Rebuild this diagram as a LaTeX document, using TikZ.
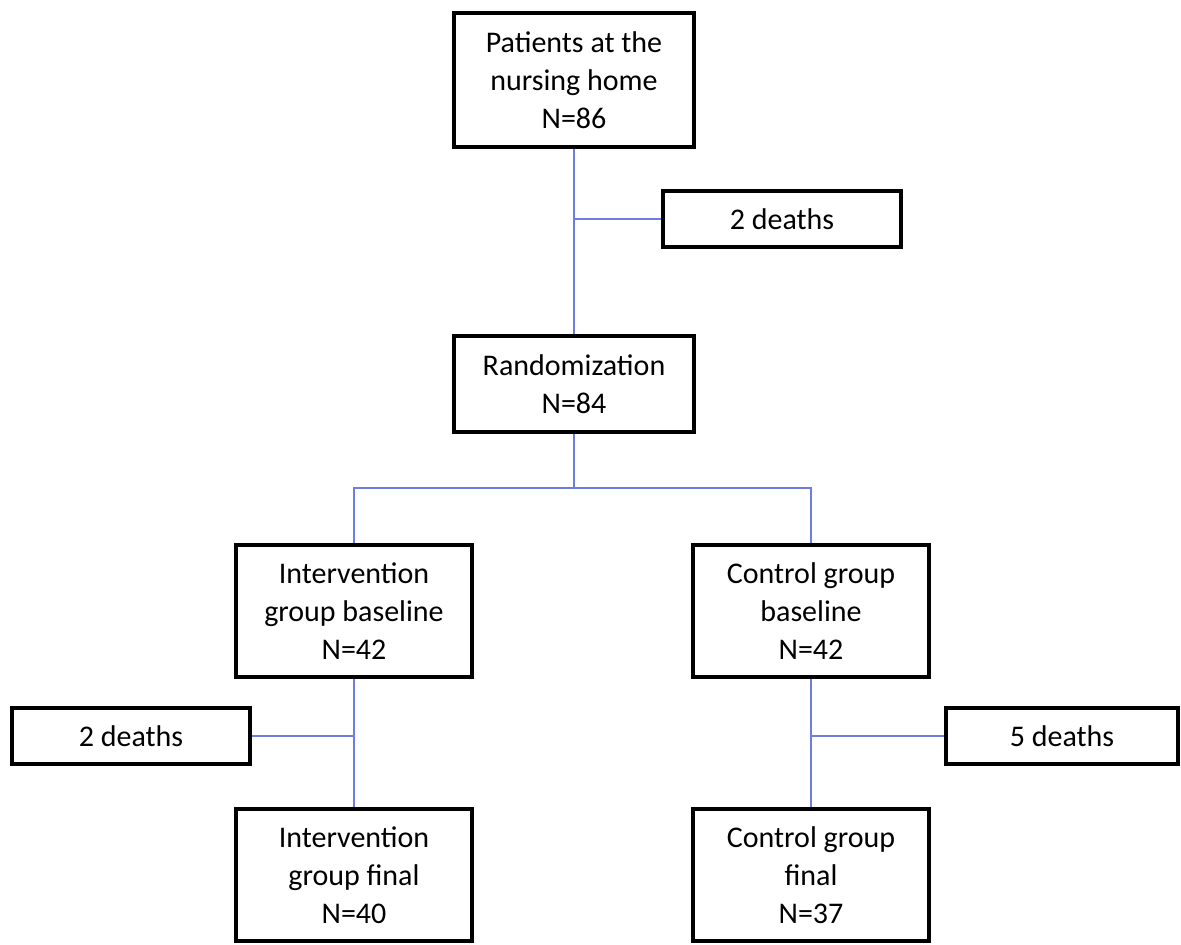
\documentclass[tikz,border=0pt]{standalone}
\usepackage{fontspec}
\setmainfont{Carlito}
\definecolor{linkblue}{RGB}{110,125,225}
\tikzset{
  box/.style={draw=black, line width=2.4pt, fill=white, align=center,
    inner sep=0pt, font=\fontsize{15}{19}\selectfont},
  link/.style={draw=linkblue, line width=0.55pt}
}
\begin{document}
\begin{tikzpicture}[x=0.5pt,y=-0.5pt]
  \useasboundingbox (0,0) rectangle (1181,944);
  \node[box, minimum width=120pt, minimum height=67pt] (pat) at (574,80) {Patients at the\\nursing home\\N=86};
  \node[box, minimum width=119pt, minimum height=28pt] (d1) at (782,219) {2 deaths};
  \node[box, minimum width=120pt, minimum height=48pt] (rand) at (574,384) {Randomization\\N=84};
  \node[box, minimum width=118pt, minimum height=66pt] (intb) at (354,611) {Intervention\\group baseline\\N=42};
  \node[box, minimum width=118pt, minimum height=66pt] (ctlb) at (811,611) {Control group\\baseline\\N=42};
  \node[box, minimum width=119pt, minimum height=28pt] (d2) at (131,736) {2 deaths};
  \node[box, minimum width=116pt, minimum height=28pt] (d5) at (1062,736) {5 deaths};
  \node[box, minimum width=118pt, minimum height=66pt] (intf) at (354,875) {Intervention\\group final\\N=40};
  \node[box, minimum width=118pt, minimum height=66pt] (ctlf) at (811,875) {Control group\\final\\N=37};
  \coordinate (split) at (574,488);
  \draw[link] (pat.south) -- (rand.north);
  \draw[link] (d1.west) -- (pat.south |- d1.west);
  \draw[link] (rand.south) -- (split);
  \draw[link] (intb.north) |- (split) -| (ctlb.north);
  \draw[link] (intb.south) -- (intf.north);
  \draw[link] (d2.east) -- (intb.south |- d2.east);
  \draw[link] (ctlb.south) -- (ctlf.north);
  \draw[link] (d5.west) -- (ctlb.south |- d5.west);
\end{tikzpicture}
\end{document}
